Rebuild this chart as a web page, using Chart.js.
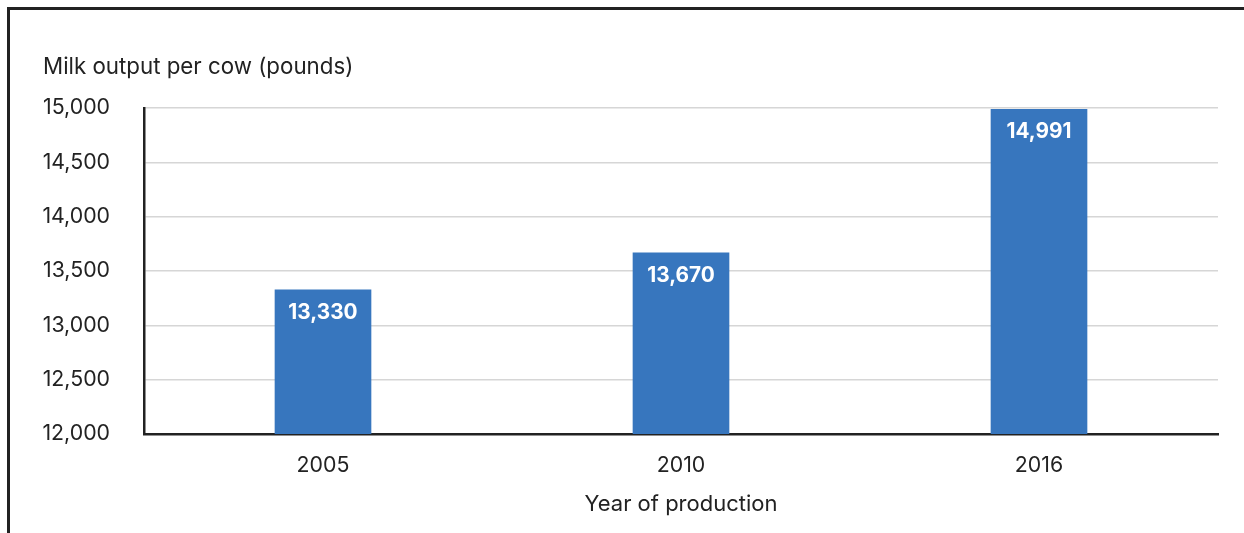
<!DOCTYPE html>
<html>
<head>
<meta charset="utf-8">
<script src="https://cdn.jsdelivr.net/npm/chart.js@4.4.1/dist/chart.umd.min.js"></script>
<style>
  html, body { margin: 0; padding: 0; background: #fff; overflow: hidden; }
  #frame {
    position: absolute; left: 7px; top: 7px; width: 1300px; height: 600px;
    border-top: 3px solid #222; border-left: 3px solid #222; box-sizing: border-box;
  }
  #wrap { position: absolute; left: 0; top: 0; width: 1244px; height: 533px; }
</style>
</head>
<body>
<div id="frame"></div>
<div id="wrap"><canvas id="chart" width="1244" height="533"></canvas></div>
<script>
const years = ['2005', '2010', '2016'];
const milkPerCow = [13330, 13670, 14991];
const yTickValues = [12000, 12500, 13000, 13500, 14000, 14500, 15000];
const yAxisTitle = 'Milk output per cow (pounds)';
const xAxisTitle = 'Year of production';

const FONT = 'Inter, "Noto Sans", sans-serif';
const TEXT = '#222';

// value labels drawn inside the top of each bar
const barValueLabels = {
  id: 'barValueLabels',
  afterDatasetsDraw(chart) {
    const ctx = chart.ctx;
    const meta = chart.getDatasetMeta(0);
    ctx.save();
    ctx.fillStyle = '#fff';
    ctx.font = 'bold 20.8px ' + FONT;
    ctx.textAlign = 'center';
    ctx.textBaseline = 'middle';
    meta.data.forEach((bar, i) => {
      ctx.fillText(milkPerCow[i].toLocaleString('en-US'), bar.x, bar.y + 23);
    });
    ctx.restore();
  }
};

// y-axis title set above the tick labels
const yTitle = {
  id: 'yTitle',
  afterDraw(chart) {
    const ctx = chart.ctx;
    ctx.save();
    ctx.fillStyle = TEXT;
    ctx.font = '22.3px ' + FONT;
    ctx.textAlign = 'left';
    ctx.textBaseline = 'middle';
    ctx.fillText(yAxisTitle, 43, 67);
    ctx.restore();
  }
};

new Chart(document.getElementById('chart'), {
  type: 'bar',
  data: {
    labels: years,
    datasets: [{
      data: milkPerCow,
      backgroundColor: '#3776be',
      borderWidth: 0,
      barPercentage: 0.54,
      categoryPercentage: 0.5
    }]
  },
  options: {
    responsive: false,
    animation: false,
    layout: { padding: { left: 0, top: 108, right: 26, bottom: 0 } },
    plugins: { legend: { display: false }, tooltip: { enabled: false } },
    scales: {
      x: {
        grid: { display: false, drawTicks: false },
        border: { display: true, color: '#222', width: 2.5 },
        ticks: { color: TEXT, font: { family: FONT, size: 21.3 }, padding: 19 },
        title: {
          display: true, text: xAxisTitle, color: TEXT,
          font: { family: FONT, size: 22 }, padding: { top: 0, bottom: 15 }
        },
        afterFit(scale) { scale.height = 99; }
      },
      y: {
        min: 12000, max: 15000,
        afterBuildTicks(scale) { scale.ticks = yTickValues.map(v => ({ value: v })); },
        grid: { color: '#d6d6d6', lineWidth: 1.5, drawTicks: false },
        border: { display: true, color: '#222', width: 2.5 },
        ticks: {
          color: TEXT, font: { family: FONT, size: 21.3 }, padding: 34,
          callback: v => Number(v).toLocaleString('en-US')
        },
        afterFit(scale) { scale.width = 144; }
      }
    }
  },
  plugins: [barValueLabels, yTitle]
});
</script>
</body>
</html>
